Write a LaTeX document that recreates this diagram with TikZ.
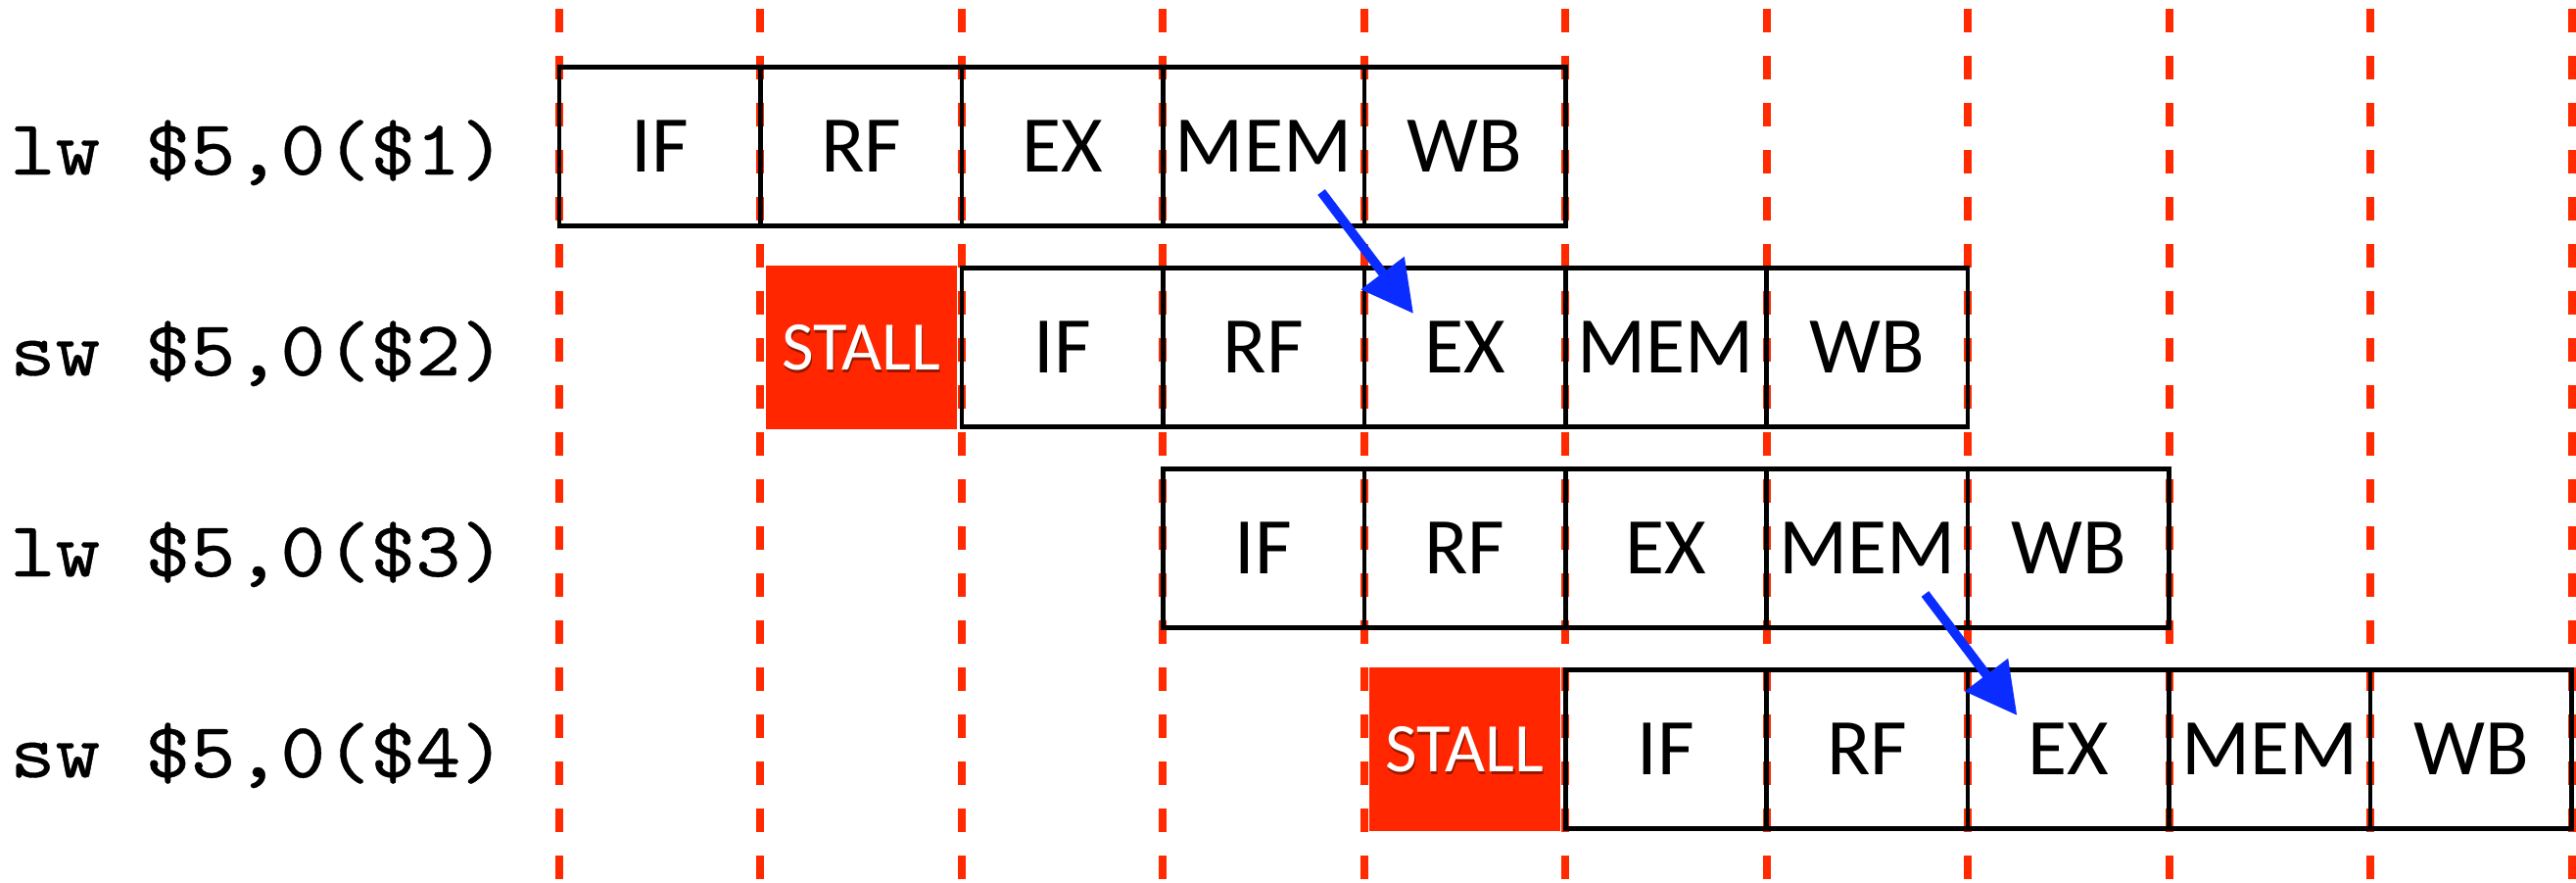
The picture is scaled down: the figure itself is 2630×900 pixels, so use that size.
\documentclass[tikz,border=0pt]{standalone}
\usepackage{fontspec}
\setmainfont{Carlito}
\newfontfamily\codefont{lmmono10-regular.otf}[AutoFakeBold=0.45]
\usetikzlibrary{arrows.meta,calc}
\definecolor{gridred}{HTML}{FF2A00}
\definecolor{stallred}{HTML}{FF2600}
\definecolor{fwdblue}{HTML}{0A2CFF}
\tikzset{
  stage/.style={draw=black, line width=2.25pt, minimum width=102.725pt, minimum height=81pt,
    inner sep=0pt, font=\fontsize{41}{41}\selectfont},
  stallbox/.style={fill=stallred, minimum width=97.5pt, minimum height=83.5pt, inner sep=0pt,
    text=white, font=\fontsize{35.5}{35.5}\selectfont},
  instr/.style={font=\codefont\bfseries\fontsize{40}{40}\selectfont, anchor=base west, inner sep=0pt},
  gridline/.style={draw=gridred, line width=4pt, dash pattern=on 12pt off 12pt},
  fwd/.style={draw=fwdblue, line width=4.75pt, -{Triangle[length=26pt,width=26.5pt]}}
}
\newcommand{\stalltext}{\smash{\makebox[0pt][l]{\raisebox{-1.6pt}{\hspace{0.6pt}\textcolor{black!40!stallred}{STALL}}}}STALL}
\newcommand{\code}[1]{\scalebox{1.095}[1]{#1}}
\begin{document}
\begin{tikzpicture}[x=0.5pt,y=-0.5pt]
\useasboundingbox (0,0) rectangle (2630,900);
% vertical dashed grid
\foreach \k in {0,...,10} \draw[gridline] ({571+205.45*\k},9) -- ({571+205.45*\k},897);
% instruction labels
\node[instr] (i1) at (10,178) {\code{lw \$5,0(\$1)}};
\node[instr] (i2) at (10,383) {\code{sw \$5,0(\$2)}};
\node[instr] (i3) at (10,588) {\code{lw \$5,0(\$3)}};
\node[instr] (i4) at (10,793) {\code{sw \$5,0(\$4)}};
% stalls
\node[stallbox] (s2) at ({571+205.45*1.5},354.5) {\stalltext};
\node[stallbox] (s4) at ({571+205.45*4.5},764.5) {\stalltext};
% pipeline stages
\foreach \lab [count=\i from 0] in {IF,RF,EX,MEM,WB}
  \node[stage] (a\i) at ({571+205.45*(\i+0.5)},149.5) {\lab};
\foreach \lab [count=\i from 0] in {IF,RF,EX,MEM,WB}
  \node[stage] (b\i) at ({571+205.45*(\i+2.5)},354.5) {\lab};
\foreach \lab [count=\i from 0] in {IF,RF,EX,MEM,WB}
  \node[stage] (c\i) at ({571+205.45*(\i+3.5)},559.5) {\lab};
\foreach \lab [count=\i from 0] in {IF,RF,EX,MEM,WB}
  \node[stage] (d\i) at ({571+205.45*(\i+5.5)},764.5) {\lab};
% forwarding arrows
\draw[fwd] ($(a3.center)+(59,46.5)$) -- ($(b2.center)+(-52.5,-34.5)$);
\draw[fwd] ($(c3.center)+(59,46.5)$) -- ($(d2.center)+(-52.5,-34.5)$);
\end{tikzpicture}
\end{document}
